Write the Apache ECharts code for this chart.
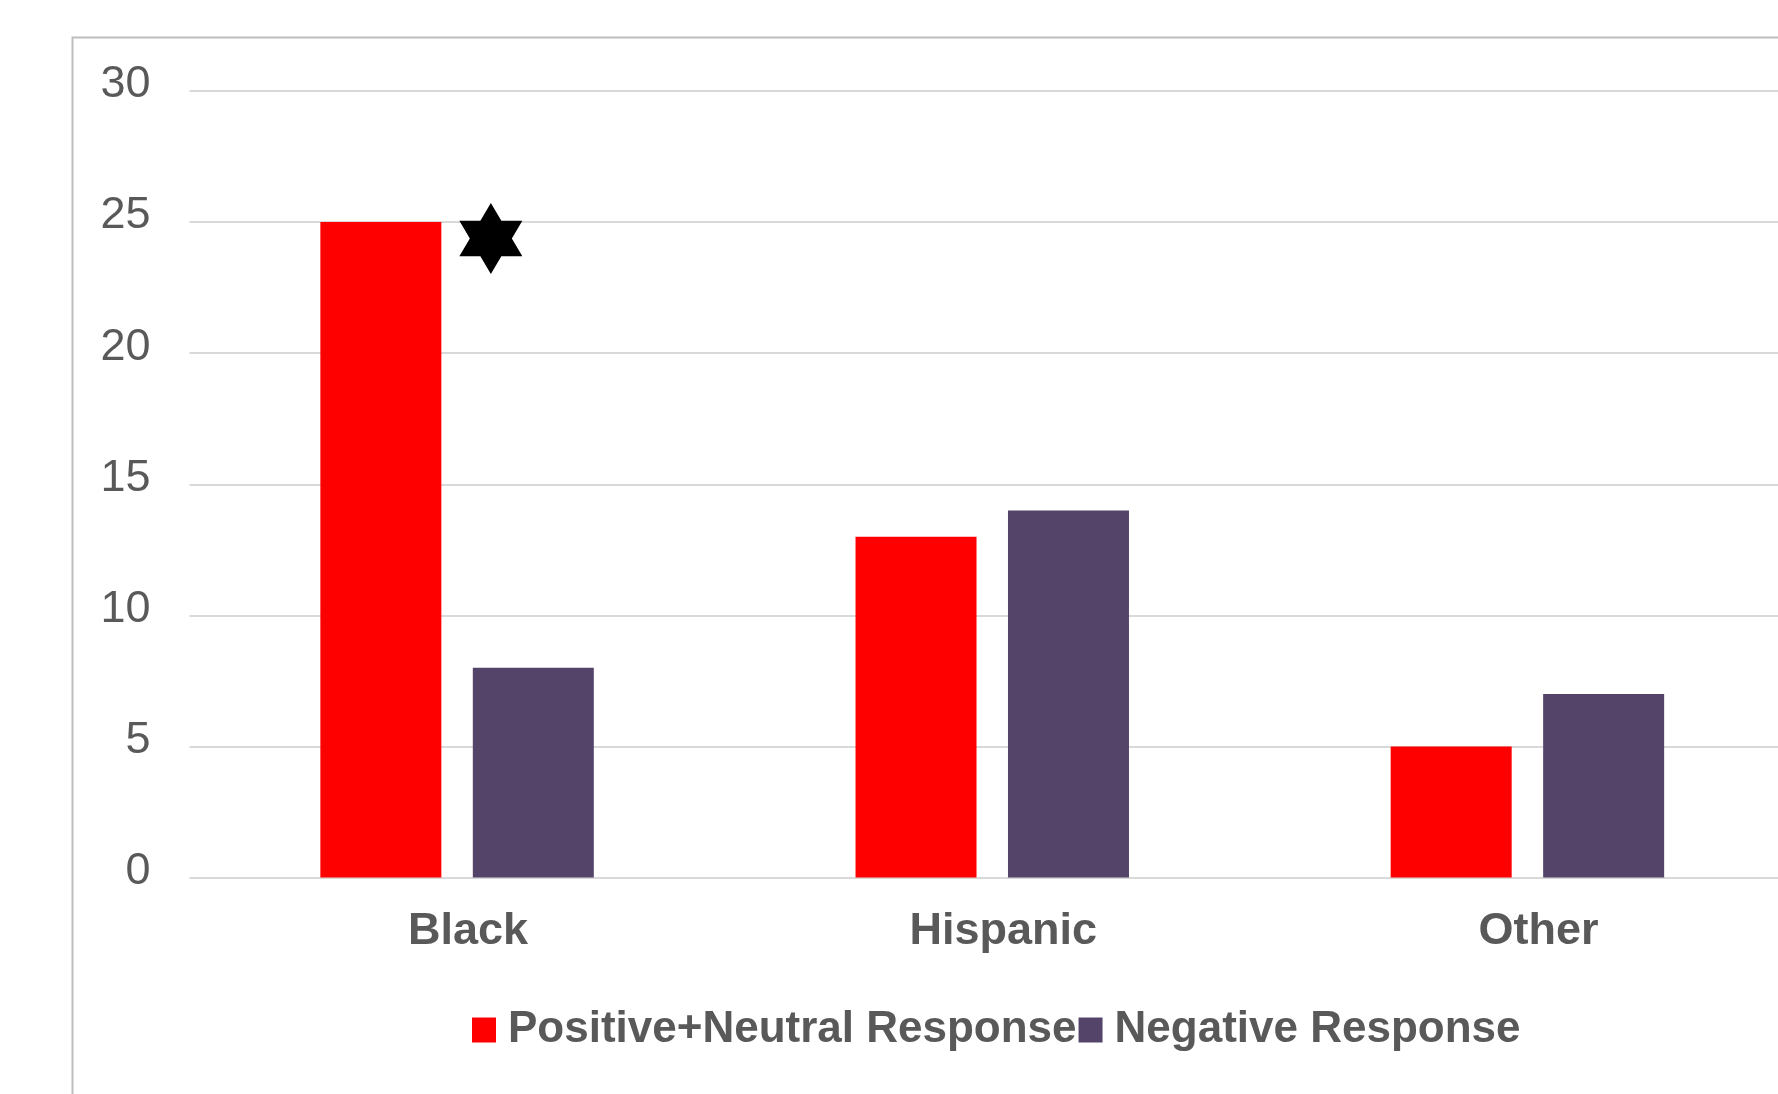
<!DOCTYPE html>
<html>
<head>
<meta charset="utf-8">
<title>Responses by group</title>
<script src="https://cdn.jsdelivr.net/npm/echarts@6/dist/echarts.min.js"></script>
<style>
  html, body { margin: 0; padding: 0; background: #ffffff; overflow: hidden; }
  /* the plot runs past the right edge of the window */
  #chart { width: 1795px; height: 1094px; }
</style>
</head>
<body>
<div id="chart"></div>
<script>
// Groups on the x axis
const categories = ['Black', 'Hispanic', 'Other'];
// Counts per group
const positiveNeutral = [25, 13, 5];
const negative = [8, 14, 7];
// Y axis range
const yMin = 0;
const yMax = 30;
const yStep = 5;
// Significance marker beside the Black group
const starPoint = ['Black', 24.3];

const FONT = '"Liberation Sans", Arial, Helvetica, sans-serif';
const TEXT = '#595959';

// Six-pointed star outline
const hexagram = 'path://M0,-100 L28.87,-50 L86.6,-50 L57.74,0 L86.6,50 L28.87,50 ' +
  'L0,100 L-28.87,50 L-86.6,50 L-57.74,0 L-86.6,-50 L-28.87,-50 Z';

const chart = echarts.init(document.getElementById('chart'), null, { renderer: 'canvas' });

chart.setOption({
  backgroundColor: '#ffffff',
  animation: false,
  graphic: [{
    type: 'rect',
    left: 70, top: 35,
    shape: { width: 1800, height: 1200 },
    style: { fill: 'none', stroke: '#bdbdbd', lineWidth: 2 },
    z: -1
  }],
  grid: { left: 189.5, right: 0, top: 91, bottom: 216.5, containLabel: false },
  legend: {
    left: 472, top: 1008,
    padding: 0,
    itemWidth: 24, itemHeight: 25, itemGap: 2,
    icon: 'rect',
    textStyle: { fontFamily: FONT, fontSize: 44, fontWeight: 'bold', color: TEXT, padding: [0, 0, 0, 7] },
    data: ['Positive+Neutral Response', 'Negative Response']
  },
  xAxis: {
    type: 'category',
    data: categories,
    axisLine: { show: false },
    axisTick: { show: false },
    axisLabel: {
      fontFamily: FONT, fontSize: 45, fontWeight: 'bold', color: TEXT,
      margin: 32, padding: [0, 0, 0, 22]
    }
  },
  yAxis: {
    type: 'value',
    min: yMin, max: yMax, interval: yStep,
    axisLine: { show: false },
    axisTick: { show: false },
    axisLabel: {
      fontFamily: FONT, fontSize: 45, color: TEXT, margin: 39,
      verticalAlign: 'bottom', lineHeight: 12
    },
    splitLine: { lineStyle: { color: '#d9d9d9', width: 2 } }
  },
  series: [
    {
      name: 'Positive+Neutral Response',
      type: 'bar',
      data: positiveNeutral,
      barWidth: 121,
      barGap: '26%',
      itemStyle: { color: '#ff0000' },
      markPoint: {
        symbol: hexagram,
        symbolSize: [63, 71],
        symbolKeepAspect: false,
        symbolOffset: [110, -2],
        itemStyle: { color: '#000000' },
        label: { show: false },
        data: [{ coord: starPoint }]
      }
    },
    {
      name: 'Negative Response',
      type: 'bar',
      data: negative,
      barWidth: 121,
      barGap: '26%',
      itemStyle: { color: '#54446a' }
    }
  ]
});
</script>
</body>
</html>
